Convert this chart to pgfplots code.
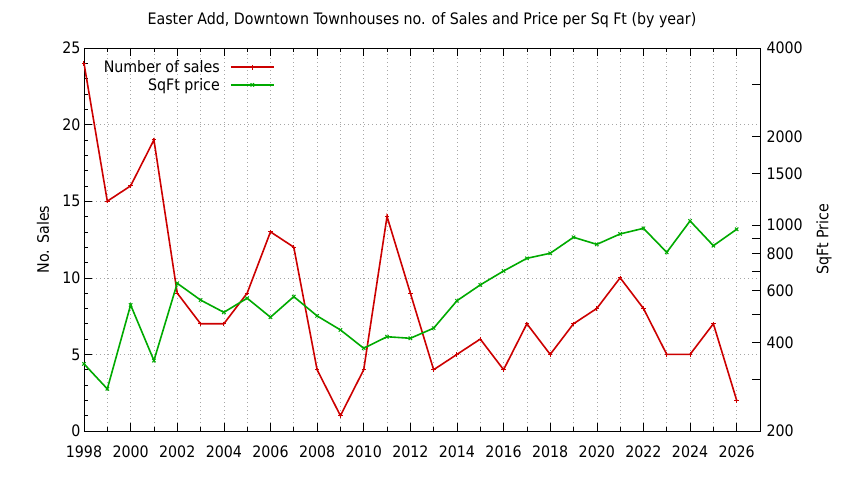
\documentclass[border=0pt]{standalone}
\usepackage{fontspec}
\setmainfont{DejaVu Sans Condensed}
\usepackage{pgfplots}
\usepackage{pgfplotstable}
\pgfplotsset{compat=1.18}

\definecolor{salesred}{RGB}{204,0,0}
\definecolor{pricegreen}{RGB}{0,170,0}

% year, number of sales, price per sq ft
\pgfplotstableread{
year sales price
1998 24 338
1999 15 278
2000 16 536
2001 19 347
2002  9 635
2003  7 557
2004  7 506
2005  9 565
2006 13 487
2007 12 572
2008  4 492
2009  1 441
2010  4 382
2011 14 418
2012  9 413
2013  4 447
2014  5 554
2015  6 627
2016  4 699
2017  7 772
2018  5 803
2019  7 910
2020  8 861
2021 10 934
2022  8 976
2023  5 809
2024  5 1034
2025  7 852
2026  2 969
}\data

\pgfplotsset{
  gpstyle/.style={
    scale only axis,
    width=676pt, height=383pt,
    at={(0pt,0pt)}, anchor=south west,
    xmin=1998, xmax=2027,
    tick align=inside,
    major tick length=8pt,
    minor tick length=4pt,
    axis line style={line width=0.8pt},
    every tick/.style={black, line width=0.6pt},
    /pgf/number format/assume math mode=true,
    /pgf/number format/1000 sep={},
  },
}

\begin{document}
\begin{tikzpicture}[font=\fontsize{15.8}{18}\selectfont]
\useasboundingbox (-84pt,-49pt) rectangle (760pt,431pt);

\begin{axis}[
    gpstyle,
    ymin=0, ymax=25,
    xtick={1998,2000,...,2026},
    minor xtick={1999,2001,...,2025},
    ytick={0,5,...,25},
    minor ytick={1,2,3,4,6,7,8,9,11,12,13,14,16,17,18,19,21,22,23,24},
    xtick pos=both,
    ytick pos=left,
    xmajorgrids, xminorgrids, ymajorgrids,
    grid style={gray!70, line width=0.6pt, dash pattern=on 1pt off 3pt},
    minor grid style={gray!70, line width=0.6pt, dash pattern=on 1pt off 3pt},
    xticklabel style={yshift=-11pt},
    ylabel={No. Sales},
    every axis y label/.style={at={(axis description cs:-0.0607,0.5)}, rotate=90, anchor=center},
    legend plot pos=right,
    legend cell align=right,
    legend style={draw=none, fill=none, at={(0.2855,0.978)}, anchor=north east,
      row sep=0pt, column sep=8pt, inner sep=2pt},
    legend image code/.code={
      \draw[#1, line width=2pt] (0pt,0pt) -- (43pt,0pt);
      \draw[#1, only marks] plot coordinates {(21.5pt,0pt)};
    },
  ]
  \addplot[salesred, line width=1.6pt, mark=+, mark size=2.2pt,
    mark options={line width=1pt}] table[x=year, y=sales] {\data};
  \addlegendentry{Number of sales}
  \addlegendimage{pricegreen, line width=1.6pt, mark=x, mark size=2.4pt,
    mark options={line width=1pt}}
  \addlegendentry{SqFt price}
\end{axis}

\begin{axis}[
    gpstyle,
    ymode=log,
    ymin=200, ymax=4000,
    axis x line=none,
    axis y line*=right,
    ytick={200,300,400,500,600,700,800,900,1000,1500,2000,3000,4000},
    yticklabels={200,,400,,600,,800,,1000,1500,2000,,4000},
    minor ytick={},
    yticklabel style={xshift=3pt},
    ylabel={SqFt Price},
    every axis y label/.style={at={(axis description cs:1.0947,0.5)}, rotate=90, anchor=center},
  ]
  \addplot[pricegreen, line width=1.6pt, mark=x, mark size=2.4pt,
    mark options={line width=1pt}] table[x=year, y=price] {\data};
\end{axis}

\node at (338pt,411pt) {Easter Add, Downtown Townhouses no. of Sales and Price per Sq Ft (by year)};
\end{tikzpicture}
\end{document}
